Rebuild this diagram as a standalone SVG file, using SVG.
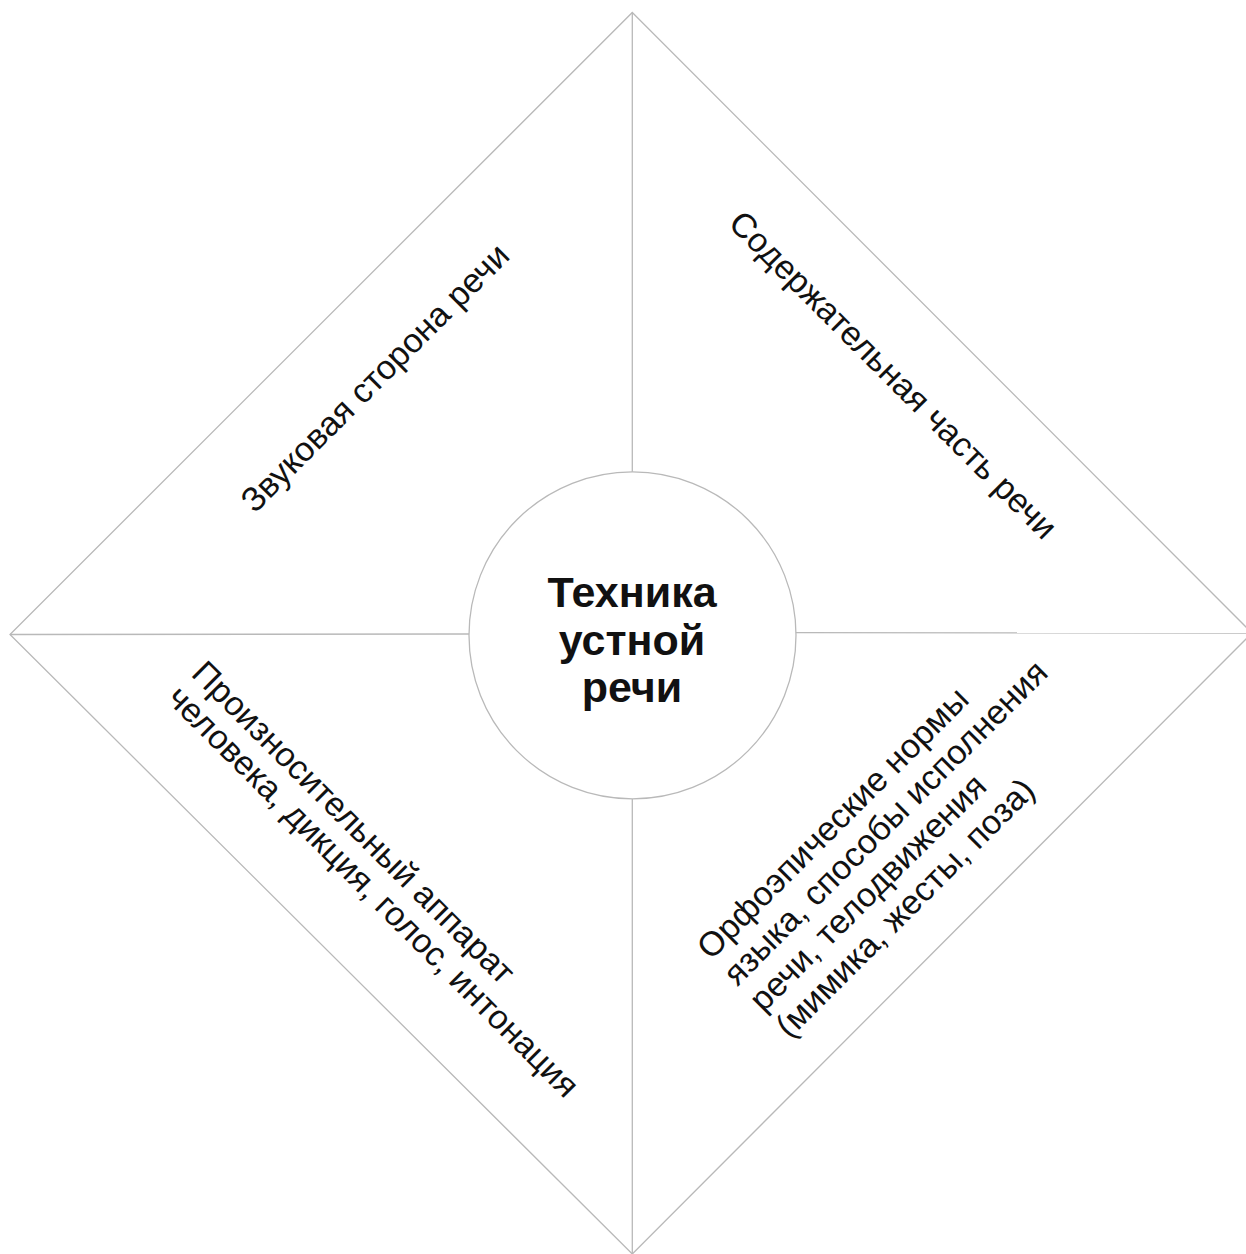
<svg xmlns="http://www.w3.org/2000/svg" width="1246" height="1254" viewBox="0 0 1246 1254">
<style>
.ln{stroke:#b9b9b9;stroke-width:1.3;fill:none}
.lbl{font-family:"Liberation Sans",Arial,sans-serif;font-size:34px;fill:#111}
.ctr{font-family:"Liberation Sans",Arial,sans-serif;font-size:43px;font-weight:bold;fill:#111;text-anchor:middle}
</style>
<rect width="1246" height="1254" fill="#fff"/>
<g id="frame">
<polygon class="ln" points="632.3,12.5 1252,633 632.3,1254 10,634.5"/>
</g>
<g id="connectors">
<line class="ln" x1="632.3" y1="12.5" x2="632.3" y2="472"/>
<line class="ln" x1="632.3" y1="799" x2="632.3" y2="1254"/>
<line class="ln" x1="10" y1="634.5" x2="469.5" y2="634"/>
<line class="ln" x1="795.5" y1="632.6" x2="1252" y2="633"/>
</g>
<g id="center">
<circle cx="632.5" cy="635.3" r="163.5" fill="#fff" stroke="#b9b9b9" stroke-width="1.3"/>
<text class="ctr" x="632" y="607">Техника</text>
<text class="ctr" x="632" y="654.5">устной</text>
<text class="ctr" x="632" y="702">речи</text>
</g>
<g id="top-left">
<text class="lbl" text-anchor="middle" transform="translate(383,386) rotate(-45)">Звуковая сторона речи</text>
</g>
<g id="top-right">
<text class="lbl" text-anchor="middle" transform="translate(885,383) rotate(45)">Содержательная часть речи</text>
</g>
<g id="bottom-left">
<text class="lbl" transform="translate(190,675) rotate(45)"><tspan x="0" y="0">Произносительный аппарат</tspan><tspan x="0" dy="35">человека, дикция, голос, интонация</tspan></text>
</g>
<g id="bottom-right">
<text class="lbl" transform="translate(711,961) rotate(-45)"><tspan x="0" y="0">Орфоэпические нормы</tspan><tspan x="0" dy="37">языка, способы исполнения</tspan><tspan x="0" dy="37">речи, телодвижения</tspan><tspan x="0" dy="37">(мимика, жесты, поза)</tspan></text>
</g>
</svg>
